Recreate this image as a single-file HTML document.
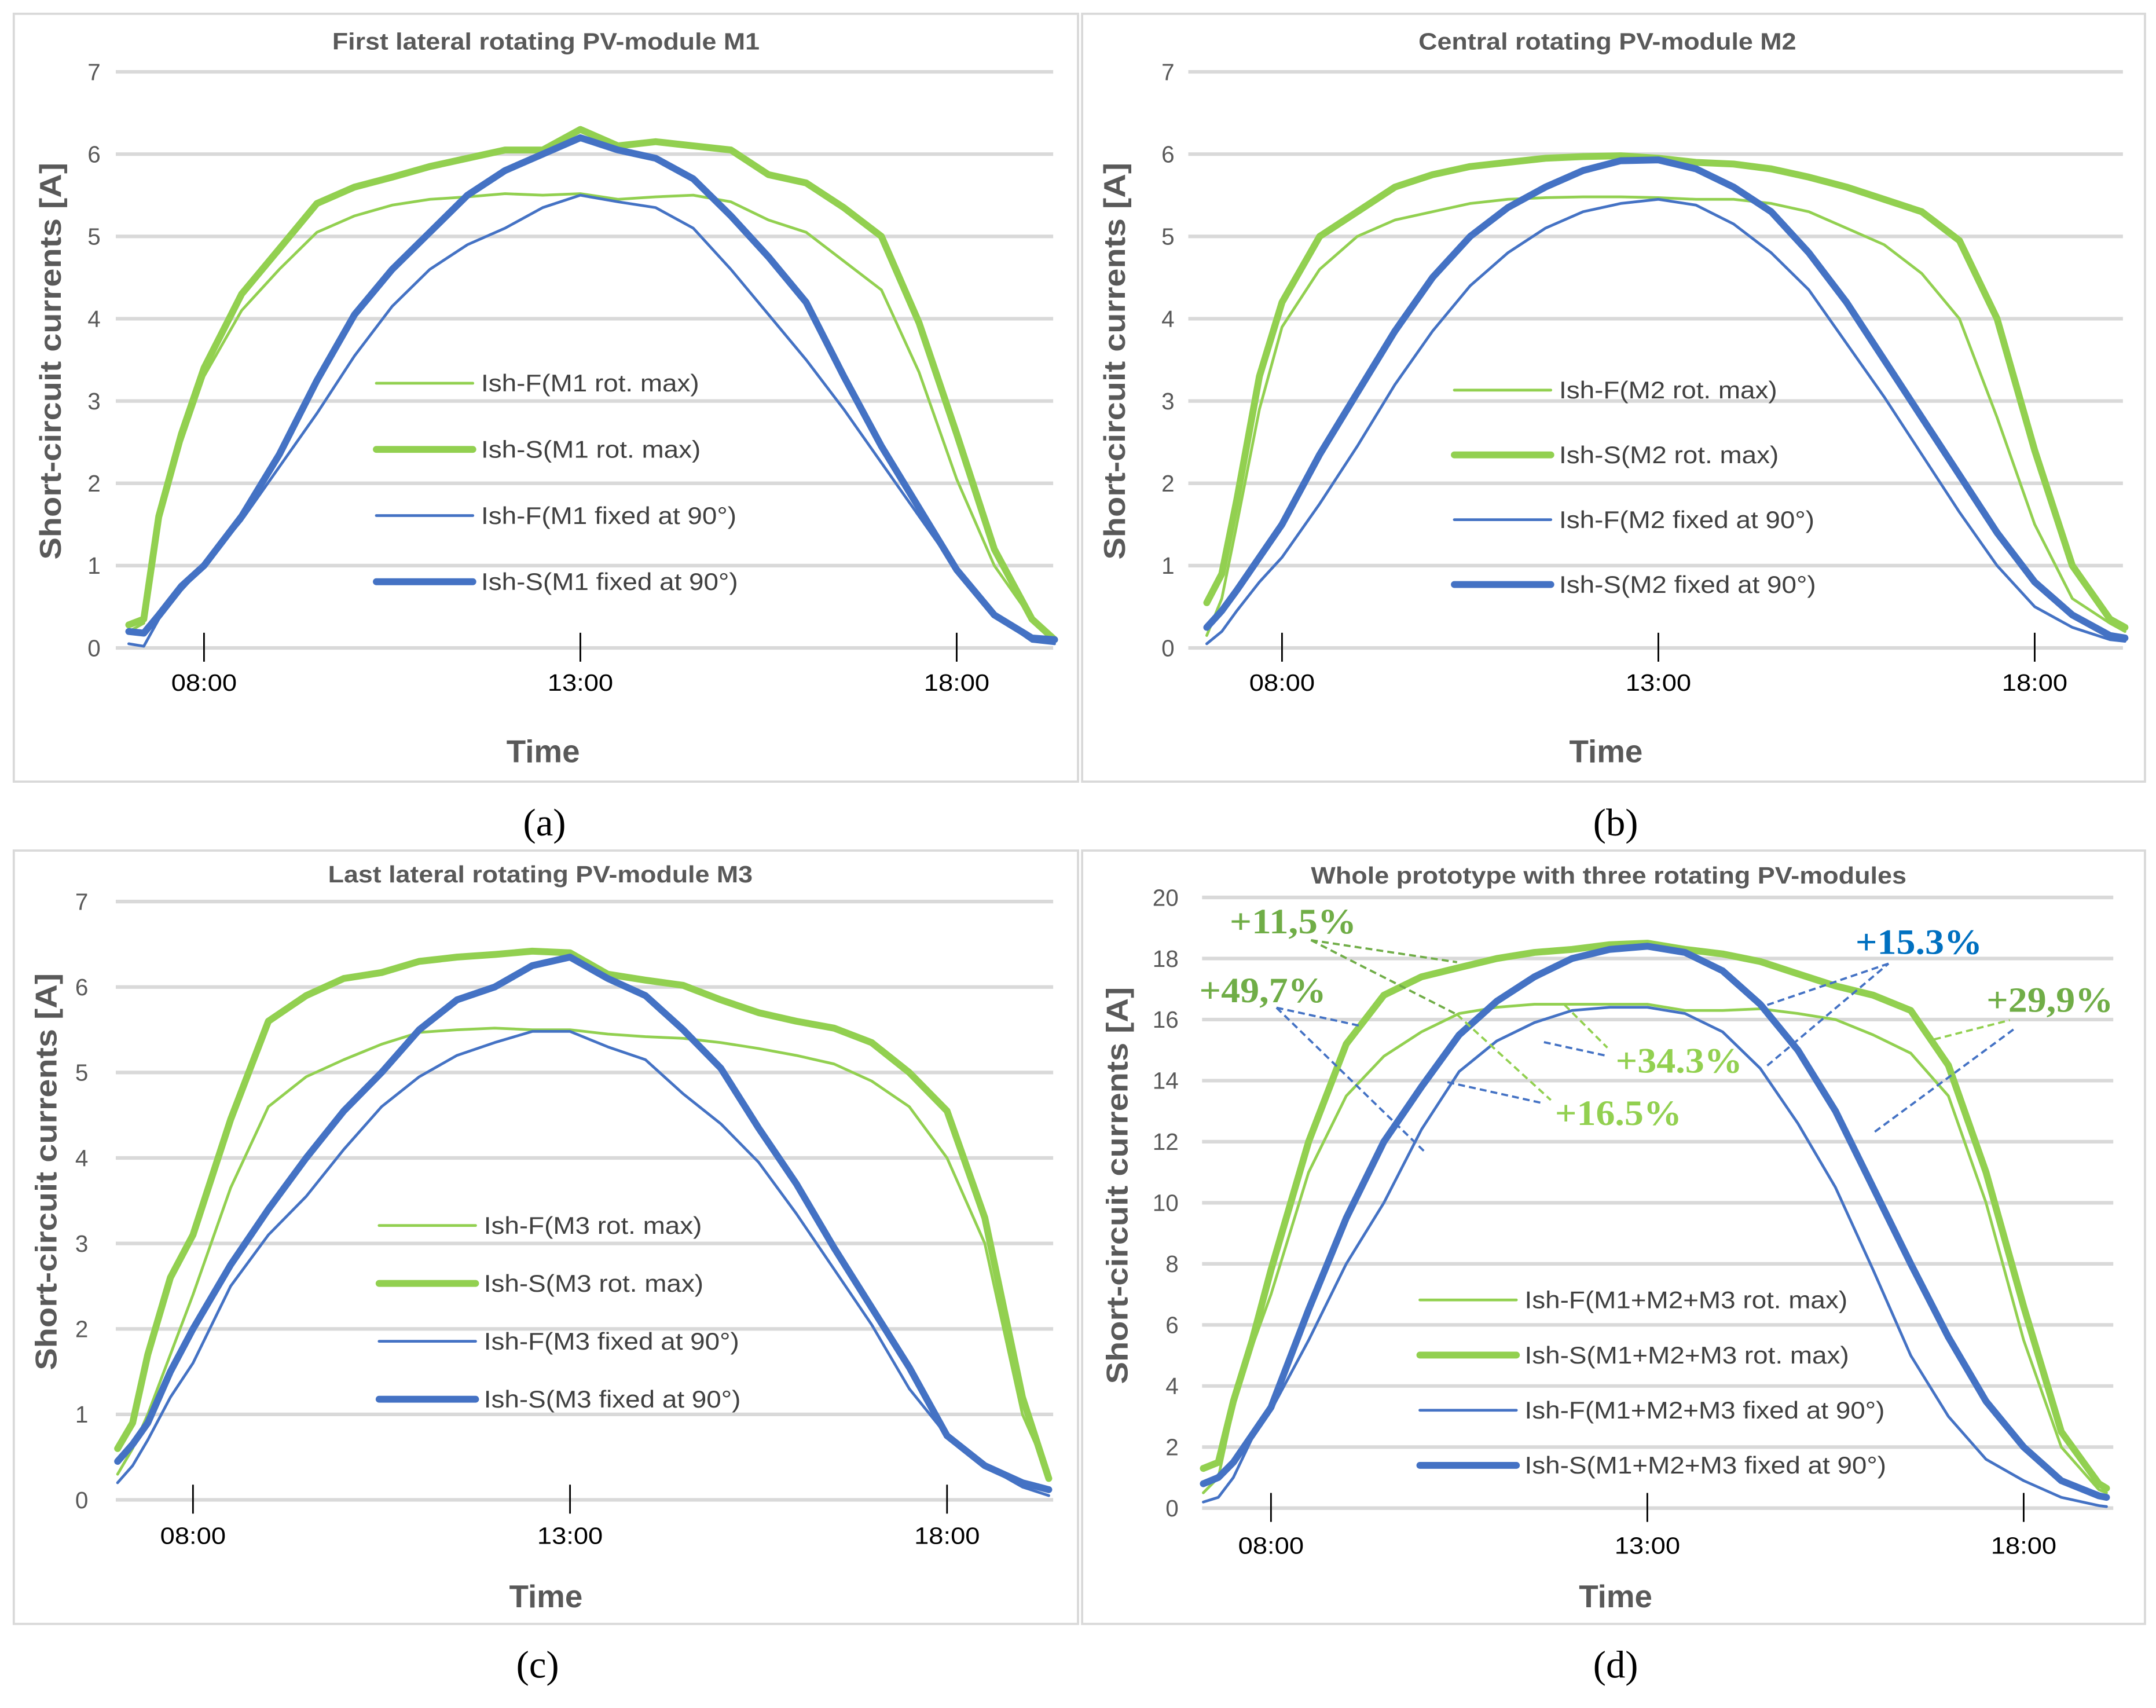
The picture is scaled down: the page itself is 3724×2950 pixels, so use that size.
<!DOCTYPE html>
<html><head><meta charset="utf-8">
<style>
html,body{margin:0;padding:0;background:#fff;}
svg{display:block;}
text{font-family:"Liberation Sans",sans-serif;}
</style></head>
<body>
<svg id="fig" width="3724" height="2950" viewBox="0 0 1564 1239" preserveAspectRatio="none" xmlns="http://www.w3.org/2000/svg">
<rect x="0" y="0" width="1564" height="1239" fill="#fff"/>
</svg>
<script>
// ---------- Panel (a) data ----------
const hoursA = [7.0,7.2,7.4,7.7,8,8.5,9,9.5,10,10.5,11,11.5,12,12.5,13,13.5,14,14.5,15,15.5,16,16.5,17,17.5,18,18.5,19,19.3];
const aFrot = [0.2,0.3,1.5,2.5,3.3,4.1,4.6,5.05,5.25,5.38,5.45,5.48,5.52,5.5,5.52,5.45,5.48,5.5,5.42,5.2,5.05,4.7,4.35,3.35,2.05,1.0,0.35,0.1];
const aSrot = [0.28,0.35,1.6,2.6,3.4,4.3,4.85,5.4,5.6,5.72,5.85,5.95,6.05,6.05,6.3,6.1,6.15,6.1,6.05,5.75,5.65,5.35,5.0,3.95,2.6,1.2,0.35,0.1];
const aFfix = [0.05,0.02,0.35,0.7,1.0,1.55,2.2,2.85,3.55,4.15,4.6,4.9,5.1,5.35,5.5,5.42,5.35,5.1,4.6,4.05,3.5,2.9,2.25,1.6,0.95,0.4,0.08,0.05];
const aSfix = [0.2,0.18,0.4,0.75,1.0,1.6,2.35,3.25,4.05,4.6,5.05,5.5,5.8,6.0,6.2,6.05,5.95,5.7,5.25,4.75,4.2,3.3,2.45,1.7,0.95,0.4,0.12,0.1];
// ---------- Panel (b) data ----------
const hoursB = [7.0,7.2,7.4,7.7,8,8.5,9,9.5,10,10.5,11,11.5,12,12.5,13,13.5,14,14.5,15,15.5,16,16.5,17,17.5,18,18.5,19,19.2];
const bFrot = [0.15,0.6,1.5,2.9,3.9,4.6,5.0,5.2,5.3,5.4,5.45,5.47,5.48,5.48,5.47,5.45,5.45,5.4,5.3,5.1,4.9,4.55,4.0,2.8,1.5,0.6,0.3,0.2];
const bSrot = [0.55,0.9,1.8,3.3,4.2,5.0,5.3,5.6,5.75,5.85,5.9,5.95,5.97,5.98,5.95,5.9,5.88,5.82,5.72,5.6,5.45,5.3,4.95,4.0,2.4,1.0,0.35,0.25];
const bFfix = [0.05,0.2,0.45,0.8,1.1,1.75,2.45,3.2,3.85,4.4,4.8,5.1,5.3,5.4,5.45,5.38,5.15,4.8,4.35,3.7,3.05,2.35,1.65,1.0,0.5,0.25,0.1,0.08];
const bSfix = [0.25,0.45,0.7,1.1,1.5,2.35,3.1,3.85,4.5,5.0,5.35,5.6,5.8,5.92,5.93,5.82,5.6,5.3,4.8,4.2,3.5,2.8,2.1,1.4,0.8,0.4,0.15,0.12];
// ---------- Panel (c) data ----------
const hoursC = [7.0,7.2,7.4,7.7,8,8.5,9,9.5,10,10.5,11,11.5,12,12.5,13,13.5,14,14.5,15,15.5,16,16.5,17,17.5,18,18.5,19,19.35];
const cFrot = [0.3,0.6,1.0,1.7,2.4,3.65,4.6,4.95,5.15,5.33,5.47,5.5,5.52,5.5,5.5,5.45,5.42,5.4,5.35,5.28,5.2,5.1,4.9,4.6,4.0,3.0,1.0,0.3];
const cSrot = [0.6,0.9,1.7,2.6,3.1,4.45,5.6,5.9,6.1,6.17,6.3,6.35,6.38,6.42,6.4,6.15,6.08,6.02,5.85,5.7,5.6,5.52,5.35,5.0,4.55,3.3,1.2,0.25];
const cFfix = [0.2,0.4,0.7,1.2,1.6,2.5,3.1,3.55,4.1,4.6,4.95,5.2,5.35,5.48,5.48,5.3,5.15,4.75,4.4,3.95,3.35,2.7,2.05,1.3,0.75,0.4,0.15,0.05];
const cSfix = [0.45,0.65,0.9,1.5,2.0,2.75,3.4,4.0,4.55,5.0,5.5,5.85,6.0,6.25,6.35,6.1,5.9,5.5,5.05,4.35,3.7,2.95,2.25,1.55,0.75,0.4,0.2,0.12];
// ---------- Panel (d) data ----------
const hoursD = [7.1,7.3,7.5,7.75,8,8.5,9,9.5,10,10.5,11,11.5,12,12.5,13,13.5,14,14.5,15,15.5,16,16.5,17,17.5,18,18.5,19,19.1];
const dFrot = [0.5,1.0,3.3,5.3,7.0,11,13.5,14.8,15.6,16.2,16.4,16.5,16.5,16.5,16.5,16.3,16.3,16.35,16.2,16.0,15.5,14.9,13.5,10,5.5,2.0,0.6,0.5];
const dSrot = [1.3,1.5,3.5,5.5,7.8,12,15.2,16.8,17.4,17.7,18.0,18.2,18.3,18.45,18.5,18.3,18.15,17.9,17.5,17.1,16.8,16.3,14.5,11,6.6,2.5,0.8,0.65];
const dFfix = [0.2,0.35,1.0,2.3,3.2,5.5,8.0,10.0,12.4,14.3,15.3,15.9,16.3,16.4,16.4,16.2,15.6,14.4,12.6,10.5,7.8,5.0,3.0,1.6,0.9,0.35,0.08,0.05];
const dSfix = [0.8,1.0,1.5,2.4,3.3,6.5,9.5,12.0,13.8,15.5,16.6,17.4,18.0,18.3,18.4,18.2,17.6,16.5,15.0,13.0,10.5,8.0,5.6,3.5,2.0,0.9,0.4,0.35];
// ---------- Axis labels ----------
const timeTicks = [8,13,18];
const timeTickLabels = ["08:00","13:00","18:00"];
const yTicks7 = [0,1,2,3,4,5,6,7];
const yTicks20 = [0,2,4,6,8,10,12,14,16,18,20];

const NS = "http://www.w3.org/2000/svg";
const svg = document.getElementById('fig');
const GREEN = "#92d050", BLUE = "#4472c4";
function mk(tag, attrs, parent){ const e=document.createElementNS(NS,tag); for(const k in attrs) e.setAttribute(k,attrs[k]); (parent||svg).appendChild(e); return e; }
function widen(el, f){ try{ const w = el.getComputedTextLength(); if(w>0){ el.setAttribute('textLength',(w*f).toFixed(1)); el.setAttribute('lengthAdjust','spacingAndGlyphs'); } }catch(e){} }

const panels = [
 {id:'a', frame:[10,10,772,557], x0:148, pxh:54.6, yb:470, pyu:59.7, gx:[84,764], yticks:yTicks7, ylx:73,
  title:"First lateral rotating PV-module M1", tw:310, tcx:396, ty:35, ytx:36, ytcy:262, timeX:394, timeY:553, tlY:501, cap:"(a)", capX:395, capY:606,
  hours:hoursA, series:[aFrot,aSrot,aFfix,aSfix], mod:"M1", legX:273, legY:[278,326,374,422]},
 {id:'b', frame:[785,10,771,557], x0:930, pxh:54.6, yb:470, pyu:59.7, gx:[862,1540], yticks:yTicks7, ylx:852,
  title:"Central rotating PV-module M2", tw:274, tcx:1166, ty:35, ytx:808, ytcy:262, timeX:1165, timeY:553, tlY:501, cap:"(b)", capX:1172, capY:606,
  hours:hoursB, series:[bFrot,bSrot,bFfix,bSfix], mod:"M2", legX:1055, legY:[283,330,377,424]},
 {id:'c', frame:[10,617,772,561], x0:140, pxh:54.7, yb:1088, pyu:62, gx:[84,764], yticks:yTicks7, ylx:64,
  title:"Last lateral rotating PV-module M3", tw:308, tcx:392, ty:639, ytx:33, ytcy:850, timeX:396, timeY:1166, tlY:1120, cap:"(c)", capX:390, capY:1217,
  hours:hoursC, series:[cFrot,cSrot,cFfix,cSfix], mod:"M3", legX:275, legY:[889,931,973,1015]},
 {id:'d', frame:[785,617,771,561], x0:922, pxh:54.6, yb:1094, pyu:22.15, gx:[872,1533], yticks:yTicks20, ylx:855,
  title:"Whole prototype with three rotating PV-modules", tw:432, tcx:1167, ty:640, ytx:810, ytcy:860, timeX:1172, timeY:1166, tlY:1127, cap:"(d)", capX:1172, capY:1217,
  hours:hoursD, series:[dFrot,dSrot,dFfix,dSfix], mod:"M1+M2+M3", legX:1030, legY:[943,983,1023,1063]}
];

const styles = [{c:GREEN,w:2},{c:GREEN,w:5},{c:BLUE,w:2},{c:BLUE,w:5}];
const legNames = m => ["Ish-F("+m+" rot. max)","Ish-S("+m+" rot. max)","Ish-F("+m+" fixed at 90°)","Ish-S("+m+" fixed at 90°)"];
const serKeys = ['ishf-rot','ishs-rot','ishf-fixed','ishs-fixed'];

panels.forEach(p=>{
  const X = h => p.x0 + (h-8)*p.pxh;
  const Y = v => p.yb - v*p.pyu;
  const g = mk('g',{});
  
  
  const fr = mk('rect',{x:p.frame[0],y:p.frame[1],width:p.frame[2],height:p.frame[3],fill:'#fff',stroke:'#d9d9d9','stroke-width':1.6},g);
  
  
  const t = mk('text',{x:p.tcx,y:p.ty+1,'text-anchor':'middle','font-size':17,'font-weight':'bold',fill:'#595959',textLength:p.tw,lengthAdjust:'spacingAndGlyphs'},g);
  t.textContent = p.title;
  
  
  p.yticks.forEach(v=>{
    const gl = mk('line',{x1:p.gx[0],x2:p.gx[1],y1:Y(v),y2:Y(v),stroke:'#d9d9d9','stroke-width':2.6},g);
    
    
    const tl = mk('text',{x:p.ylx,y:Y(v)+6,'text-anchor':'end','font-size':17,fill:'#595959'},g);
    tl.textContent = String(v);
    
    
  });
  timeTicks.forEach((h,i)=>{
    const tk = mk('line',{x1:X(h),x2:X(h),y1:p.yb-11,y2:p.yb+10,stroke:'#000','stroke-width':1.2},g);
    
    
    const tl = mk('text',{x:X(h),y:p.tlY,'text-anchor':'middle','font-size':17,fill:'#000'},g);
    tl.textContent = timeTickLabels[i];
    
    
    widen(tl,1.12);
  });
  const xt = mk('text',{x:p.timeX,y:p.timeY,'text-anchor':'middle','font-size':23,'font-weight':'bold',fill:'#595959'},g);
  xt.textContent = "Time";
  
  
  const yt = mk('text',{x:0,y:0,'text-anchor':'middle','font-size':22,'font-weight':'bold',fill:'#595959',
     transform:`translate(${p.ytx+8},${p.ytcy}) rotate(-90)`,textLength:288,lengthAdjust:'spacingAndGlyphs'},g);
  yt.textContent = "Short-circuit currents [A]";
  
  
  const cap = mk('text',{x:p.capX,y:p.capY,'text-anchor':'middle','font-size':28,fill:'#000'},g);
  cap.style.fontFamily='"Liberation Serif",serif';
  cap.textContent = p.cap;
  
  
  p.series.forEach((vals,si)=>{
    const pts = vals.map((v,i)=>X(p.hours[i]).toFixed(1)+','+Y(v).toFixed(1)).join(' ');
    const pl = mk('polyline',{points:pts,fill:'none',stroke:styles[si].c,'stroke-width':styles[si].w,'stroke-linejoin':'round','stroke-linecap':'round'},g);
    
    
  });
  const names = legNames(p.mod);
  names.forEach((n,si)=>{
    const ll = mk('line',{x1:p.legX,x2:p.legX+70,y1:p.legY[si],y2:p.legY[si],stroke:styles[si].c,'stroke-width':styles[si].w,'stroke-linecap':'round'},g);
    
    
    const lt = mk('text',{x:p.legX+76,y:p.legY[si]+6,'font-size':17.5,fill:'#404040'},g);
    lt.textContent = n;
    
    
    widen(lt,1.1);
  });
});

// annotations panel d
const dashes = [
 ["#70ad47",951,682,1057,698],["#70ad47",951,682,1057,736],["#92d050",1057,736,1125,798],
 ["#92d050",1135,729,1166,760],["#92d050",1403,754,1458,740],
 [BLUE,926,731,1034,836],[BLUE,926,731,986,744],[BLUE,1050,785,1118,800],
 [BLUE,1120,756,1166,766],[BLUE,1282,729,1370,699],[BLUE,1282,773,1370,699],[BLUE,1360,821,1463,745]
];
dashes.forEach(d=>{
  const l = mk('line',{x1:d[1],y1:d[2],x2:d[3],y2:d[4],stroke:d[0],'stroke-width':1.6,'stroke-dasharray':'5,3'});
  
  
});
const notes = [["+11,5%",892,677,"#70ad47"],["+49,7%",870,727,"#70ad47"],["+15.3%",1346,692,"#0070c0"],
 ["+29,9%",1441,734,"#70ad47"],["+34.3%",1172,778,"#92d050"],["+16.5%",1128,816,"#92d050"]];
notes.forEach(n=>{
  const t = mk('text',{x:n[1],y:n[2],'font-size':26,'font-weight':'bold',fill:n[3],textLength:92,lengthAdjust:'spacingAndGlyphs'});
  t.style.fontFamily='"Liberation Serif",serif';
  t.textContent = n[0];
  
  
});
</script>
</body></html>
